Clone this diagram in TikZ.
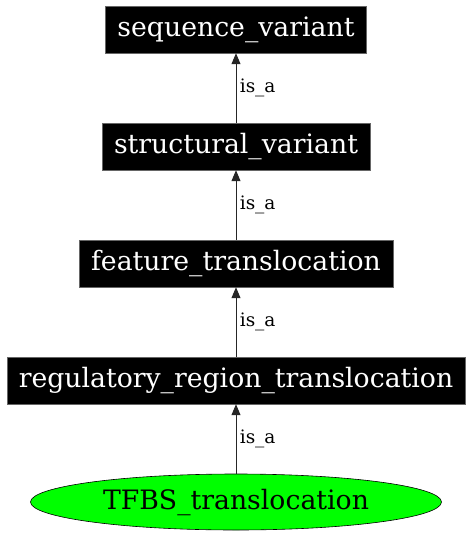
\documentclass[tikz,border=0pt]{standalone}
\usepackage{fontspec}
\setmainfont{DejaVu Serif}
\usetikzlibrary{arrows.meta,positioning,shapes.geometric}
\tikzset{%
        auto,
        node distance=69.5pt
}
\tikzstyle{term}=[
    draw = black!60,
    fill = black,
    text = white,
    line width = 0.5pt,
    inner xsep = 12pt,
    minimum height = 47pt,
    font = \fontsize{26.7}{29}\selectfont
]
\tikzstyle{leaf}=[
    ellipse,
    draw = black,
    fill = green,
    line width = 0.6pt,
    minimum width = 411pt,
    minimum height = 56pt,
    font = \fontsize{26.7}{29}\selectfont
]
\tikzstyle{every edge}=[
    draw = black!85,
    line width = 1pt,
    -{Triangle[length=11pt,width=9pt]}
]

\begin{document}
\begin{tikzpicture}
    \useasboundingbox (0pt,0pt) rectangle (472pt,-536pt);
        \node[leaf] (tfbs) at (236pt,-502pt) {TFBS\_translocation};
        \node[term] (reg) [above = of tfbs] {regulatory\_region\_translocation};
        \node[term] (feat) [above = of reg] {feature\_translocation};
        \node[term] (struct) [above = of feat] {structural\_variant};
        \node[term] (seq) [above = of struct] {sequence\_variant};
        \path[font=\fontsize{18.5}{20}\selectfont]
        (tfbs) edge[right]
        node {is\_a} (reg)
        (reg) edge[right]
        node {is\_a} (feat)
        (feat) edge[right]
        node {is\_a} (struct)
        (struct) edge[right]
        node {is\_a} (seq)
        ;
    \end{tikzpicture}
\end{document}
